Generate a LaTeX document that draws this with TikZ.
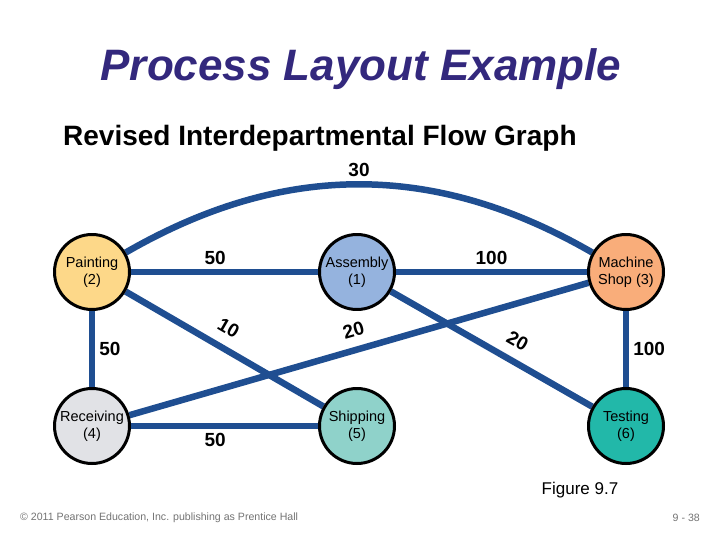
\documentclass[tikz,border=0pt]{standalone}
\usepackage{fontspec}
\setmainfont{Liberation Sans}
\usetikzlibrary{backgrounds}
\definecolor{flowblue}{HTML}{1F4E91}
\definecolor{titlepurple}{HTML}{33287D}
\definecolor{paintfill}{HTML}{FDD889}
\definecolor{assemfill}{HTML}{95B3DE}
\definecolor{machfill}{HTML}{F9AD7A}
\definecolor{recvfill}{HTML}{E1E2E6}
\definecolor{shipfill}{HTML}{8FD2CA}
\definecolor{testfill}{HTML}{22B8A9}
\begin{document}
\begin{tikzpicture}[x=1pt,y=-1pt,line join=round]
				\tikzset{dept/.style={circle,draw=black,line width=3pt,minimum size=75pt,inner sep=0pt,
						align=center,font=\fontsize{14.5}{17}\selectfont},
					flow/.style={draw=flowblue,line width=6.5pt},
					wt/.style={font=\bfseries\fontsize{19}{19}\selectfont,inner sep=4pt}}
				\useasboundingbox (0,0) rectangle (720,540);
				\node[font=\bfseries\itshape\fontsize{44}{44}\selectfont,text=titlepurple] (title) at (361,69) {Process Layout Example};
				\node[font=\bfseries\fontsize{28}{28}\selectfont,anchor=west,inner sep=0pt] (subtitle) at (63,138) {Revised Interdepartmental Flow Graph};
				\node[dept,fill=paintfill] (paint) at (92,272) {Painting\\(2)};
				\node[dept,fill=assemfill] (assem) at (357,272) {Assembly\\(1)};
				\node[dept,fill=machfill] (mach) at (626,272) {Machine\\Shop (3)};
				\node[dept,fill=recvfill] (recv) at (92,426) {Receiving\\(4)};
				\node[dept,fill=shipfill] (ship) at (357,426) {Shipping\\(5)};
				\node[dept,fill=testfill] (test) at (626,426) {Testing\\(6)};
				\begin{scope}[on background layer]
				\draw[flow] (paint) -- (assem) node[wt,pos=0.45,above]{50};
				\draw[flow] (assem) -- (mach) node[wt,midway,above]{100};
				\draw[flow] (paint) -- (recv) node[wt,midway,right]{50};
				\draw[flow] (recv) -- (ship) node[wt,pos=0.45,below]{50};
				\draw[flow] (mach) -- (test) node[wt,midway,right]{100};
				\draw[flow] (paint) -- (ship) node[wt,pos=0.47,sloped,above=6pt]{10};
				\draw[flow] (recv) -- (mach) node[wt,pos=0.5,sloped,above=6pt]{20};
				\draw[flow] (assem) -- (test) node[wt,pos=0.58,sloped,above=6pt]{20};
				\draw[flow] (paint) to[out=30,in=150] node[wt,midway,above]{30} (mach);
				\end{scope}
				\node[font=\fontsize{17}{17}\selectfont] (fig) at (580,490) {Figure 9.7};
				\node[font=\fontsize{10.6}{10.6}\selectfont,text=black!55,anchor=west,inner sep=0pt] (copy) at (20,518) {© 2011 Pearson Education, Inc. publishing as Prentice Hall};
				\node[font=\fontsize{10.6}{10.6}\selectfont,text=black!55,anchor=east,inner sep=0pt] (page) at (700,518) {9 - 38};
			\end{tikzpicture}
\end{document}
